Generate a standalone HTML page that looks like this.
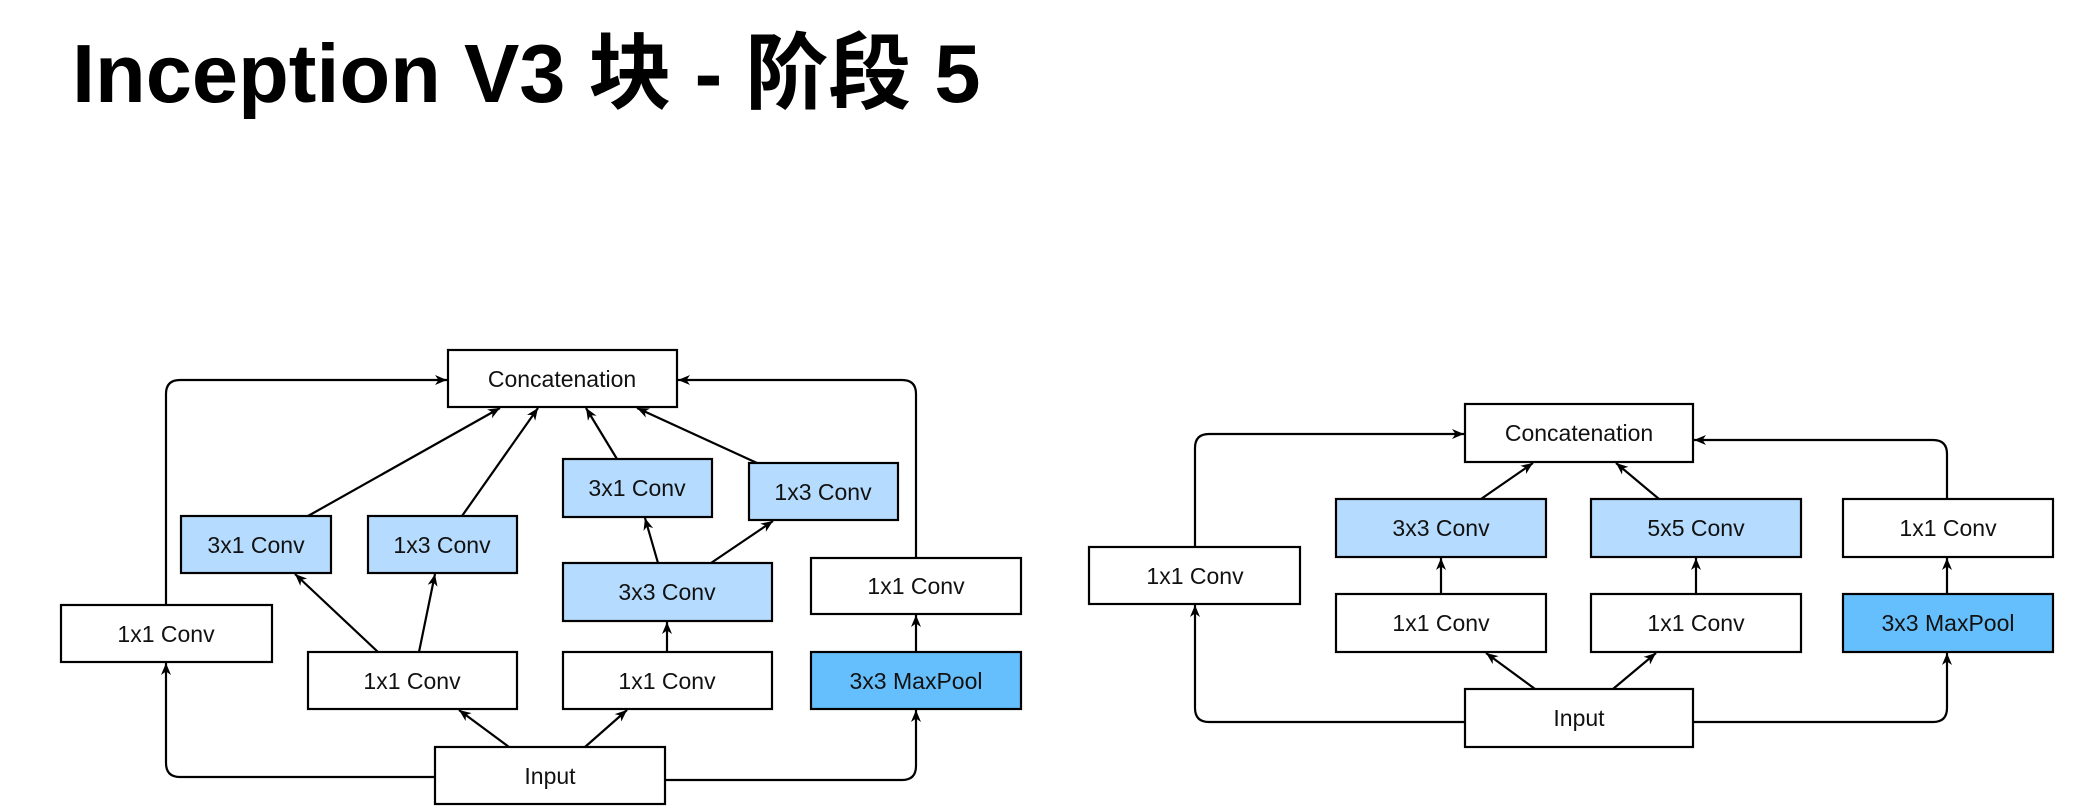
<!DOCTYPE html>
<html><head><meta charset="utf-8"><style>
html,body{margin:0;padding:0;background:#fff;width:2073px;height:810px;overflow:hidden}
h1{position:absolute;left:72px;top:6px;margin:0;font:bold 83px "Liberation Sans","Noto Sans CJK SC",sans-serif;color:#000;white-space:nowrap}
svg{position:absolute;left:0;top:0}
text{font-family:"Liberation Sans",sans-serif;font-size:23px;fill:#111;text-anchor:middle;dominant-baseline:central}
</style></head><body>
<h1>Inception V3 块 - 阶段 5</h1>
<svg width="2073" height="810" viewBox="0 0 2073 810">
<defs><marker id="a" markerWidth="13" markerHeight="12" refX="12" refY="6" orient="auto" markerUnits="userSpaceOnUse"><path d="M0,1 L12,6 L0,11 L3.5,6 Z" fill="#000"/></marker></defs>
<g fill="none" stroke="#000" stroke-width="2.2" marker-end="url(#a)">
<path d="M435,777 H180 Q166,777 166,763 V663"/>
<path d="M166,605 V394 Q166,380 180,380 H447"/>
<path d="M665,780 H902 Q916,780 916,766 V710"/>
<path d="M916,652 V615"/>
<path d="M916,558 V394 Q916,380 902,380 H678"/>
<path d="M308,516 L500,408"/>
<path d="M462,516 L538,408"/>
<path d="M617,459 L586,408"/>
<path d="M757,463 L637,408"/>
<path d="M378,652 L295,574"/>
<path d="M419,652 L435,574"/>
<path d="M658,563 L645,518"/>
<path d="M711,563 L773,521"/>
<path d="M667,652 L667,622"/>
<path d="M509,747 L459,710"/>
<path d="M585,747 L627,710"/>
<path d="M1465,722 H1209 Q1195,722 1195,708 V605"/>
<path d="M1195,547 V448 Q1195,434 1209,434 H1464"/>
<path d="M1693,722 H1933 Q1947,722 1947,708 V653"/>
<path d="M1947,594 V558"/>
<path d="M1947,499 V454 Q1947,440 1933,440 H1694"/>
<path d="M1481,499 L1533,463"/>
<path d="M1659,499 L1616,463"/>
<path d="M1441,594 L1441,558"/>
<path d="M1696,594 L1696,558"/>
<path d="M1535,689 L1486,653"/>
<path d="M1613,689 L1656,653"/>
</g>
<g stroke="#000" stroke-width="2.2">
<rect x="448" y="350" width="229" height="57" fill="#fff"/>
<rect x="181" y="516" width="150" height="57" fill="#b5dcfe"/>
<rect x="368" y="516" width="149" height="57" fill="#b5dcfe"/>
<rect x="563" y="459" width="149" height="58" fill="#b5dcfe"/>
<rect x="749" y="463" width="149" height="57" fill="#b5dcfe"/>
<rect x="563" y="563" width="209" height="58" fill="#b5dcfe"/>
<rect x="811" y="558" width="210" height="56" fill="#fff"/>
<rect x="61" y="605" width="211" height="57" fill="#fff"/>
<rect x="308" y="652" width="209" height="57" fill="#fff"/>
<rect x="563" y="652" width="209" height="57" fill="#fff"/>
<rect x="811" y="652" width="210" height="57" fill="#66bffd"/>
<rect x="435" y="747" width="230" height="57" fill="#fff"/>
<rect x="1465" y="404" width="228" height="58" fill="#fff"/>
<rect x="1336" y="499" width="210" height="58" fill="#b5dcfe"/>
<rect x="1591" y="499" width="210" height="58" fill="#b5dcfe"/>
<rect x="1843" y="499" width="210" height="58" fill="#fff"/>
<rect x="1089" y="547" width="211" height="57" fill="#fff"/>
<rect x="1336" y="594" width="210" height="58" fill="#fff"/>
<rect x="1591" y="594" width="210" height="58" fill="#fff"/>
<rect x="1843" y="594" width="210" height="58" fill="#66bffd"/>
<rect x="1465" y="689" width="228" height="58" fill="#fff"/>
</g>
<text x="562" y="379">Concatenation</text>
<text x="256" y="545">3x1 Conv</text>
<text x="442" y="545">1x3 Conv</text>
<text x="637" y="488">3x1 Conv</text>
<text x="823" y="492">1x3 Conv</text>
<text x="667" y="592">3x3 Conv</text>
<text x="916" y="586">1x1 Conv</text>
<text x="166" y="634">1x1 Conv</text>
<text x="412" y="681">1x1 Conv</text>
<text x="667" y="681">1x1 Conv</text>
<text x="916" y="681">3x3 MaxPool</text>
<text x="550" y="776">Input</text>
<text x="1579" y="433">Concatenation</text>
<text x="1441" y="528">3x3 Conv</text>
<text x="1696" y="528">5x5 Conv</text>
<text x="1948" y="528">1x1 Conv</text>
<text x="1195" y="576">1x1 Conv</text>
<text x="1441" y="623">1x1 Conv</text>
<text x="1696" y="623">1x1 Conv</text>
<text x="1948" y="623">3x3 MaxPool</text>
<text x="1579" y="718">Input</text>
</svg>
</body></html>
